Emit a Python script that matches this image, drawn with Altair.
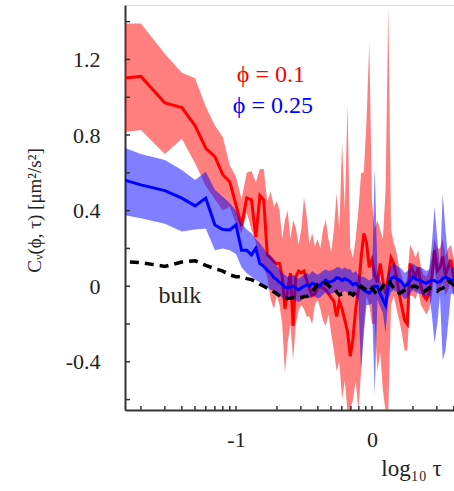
import altair as alt
import pandas as pd
import numpy as np

# x positions: log10(tau)
log_tau = [
    -2.0, -1.699, -1.523, -1.398, -1.301, -1.222, -1.155, -1.097, -1.046, -1.0,
    -0.959, -0.921, -0.886, -0.854, -0.824, -0.796, -0.770, -0.745, -0.721,
    -0.70, -0.68, -0.66, -0.64, -0.62, -0.60, -0.58, -0.56, -0.54, -0.52,
    -0.50, -0.48, -0.46, -0.44, -0.42, -0.40, -0.38, -0.36, -0.34, -0.32,
    -0.30, -0.28, -0.26, -0.24, -0.22, -0.20, -0.18, -0.16, -0.14, -0.12,
    -0.10, -0.08, -0.06, -0.04, -0.02, 0.00, 0.02, 0.04, 0.06, 0.08,
    0.10, 0.12, 0.14, 0.16, 0.18, 0.20, 0.22, 0.24, 0.26, 0.28,
    0.30, 0.32, 0.34, 0.36, 0.38, 0.40, 0.42, 0.44, 0.46, 0.48,
    0.50, 0.52, 0.54, 0.56, 0.58, 0.60, 0.62,
]

# phi = 0.1 (red)
red_mean = [
    1.09, 1.11, 0.97, 0.945, 0.85, 0.73, 0.685, 0.59, 0.553, 0.43,
    0.32, 0.467, 0.457, 0.26, 0.48, 0.457, 0.166, 0.15, 0.13,
    0.12, 0.12, 0.05, -0.12, -0.02, 0.07, -0.21, 0.05, 0.08, 0.07,
    0.08, 0.03, -0.01, -0.05, -0.04, -0.01, 0.0, -0.01, -0.02, -0.04,
    -0.06, -0.08, -0.16, -0.08, -0.12, -0.18, -0.24, -0.37, -0.28, -0.12,
    -0.02, 0.15, 0.28, 0.23, 0.10, 0.14, 0.06, 0.02, 0.12, 0.03,
    -0.04, 0.05, 0.15, 0.12, 0.05, -0.04, -0.11, -0.18, -0.20, 0.12,
    0.08, 0.05, 0.10, 0.0, -0.05, -0.07, -0.04, 0.05, 0.19, 0.08,
    0.10, 0.157, 0.06, 0.10, 0.14, 0.05, 0.05,
]
red_hi = [
    1.39, 1.39, 1.23, 1.13, 1.10, 0.95, 0.85, 0.79, 0.64, 0.58,
    0.46, 0.60, 0.61, 0.55, 0.62, 0.62, 0.45, 0.50, 0.42,
    0.45, 0.40, 0.25, 0.35, 0.40, 0.25, 0.35, 0.31, 0.22, 0.30,
    0.47, 0.37, 0.22, 0.28, 0.21, 0.25, 0.20, 0.30, 0.35, 0.25,
    0.18, 0.30, 0.49, 0.30, 0.76, 0.40, 0.96, 0.20, 0.15, 0.25,
    0.40, 0.60, 0.60, 0.88, 1.29, 0.45, 0.30, 0.35, 0.30, 0.25,
    0.51, 1.48, 0.30, 0.23, 0.18, 0.10, 0.05, 0.0, 0.05, 0.22,
    0.19, 0.15, 0.19, 0.10, 0.06, 0.05, 0.08, 0.15, 0.25, 0.20,
    0.20, 0.25, 0.16, 0.20, 0.22, 0.15, 0.15,
]
red_lo = [
    0.80, 0.827, 0.70, 0.78, 0.65, 0.53, 0.46, 0.40, 0.42, 0.33,
    0.28, 0.39, 0.30, 0.23, 0.15, 0.10, 0.05, -0.07, -0.12,
    -0.05, -0.10, -0.20, -0.46, -0.30, -0.20, -0.39, -0.20, -0.13, -0.10,
    -0.12, -0.16, -0.16, -0.20, -0.10, -0.07, -0.12, -0.18, -0.21, -0.15,
    -0.25, -0.34, -0.45, -0.40, -0.60, -0.50, -0.66, -0.66, -0.60, -0.50,
    -0.66, -0.45, -0.20, -0.05, -0.10, -0.20, -0.20, -0.45, -0.35, -0.55,
    -0.66, -0.66, -0.10, -0.05, -0.12, -0.18, -0.25, -0.34, -0.34, -0.05,
    -0.05, -0.07, -0.02, -0.10, -0.125, -0.15, -0.12, -0.06, 0.10, -0.05,
    -0.02, 0.02, -0.05, -0.02, 0.02, -0.05, -0.05,
]

# phi = 0.25 (blue)
blue_mean = [
    0.60, 0.536, 0.506, 0.466, 0.425, 0.466, 0.324, 0.30, 0.298, 0.324,
    0.19, 0.19, 0.166, 0.20, 0.12, 0.105, 0.085, 0.069, 0.045,
    0.035, 0.02, 0.01, -0.005, -0.01, -0.005, 0.0, -0.01, -0.02, -0.01,
    0.0, 0.007, 0.0, 0.016, 0.01, 0.0, 0.007, 0.02, 0.033, 0.02,
    0.024, 0.03, 0.045, 0.042, 0.03, 0.04, 0.033, 0.024, 0.007, 0.016,
    0.0, -0.01, -0.02, -0.03, -0.037, -0.02, 0.0, 0.0, -0.04, -0.07,
    -0.10, 0.0, 0.04, 0.05, 0.04, 0.033, 0.02, 0.0, 0.01, 0.03,
    0.05, 0.04, 0.033, 0.03, 0.02, 0.016, 0.025, 0.033, 0.03, 0.02,
    0.024, 0.04, 0.05, 0.04, 0.033, 0.033, 0.03,
]
blue_hi = [
    0.78, 0.70, 0.668, 0.615, 0.562, 0.606, 0.51, 0.474, 0.44, 0.40,
    0.333, 0.30, 0.28, 0.25, 0.227, 0.20, 0.175, 0.16, 0.14,
    0.11, 0.09, 0.07, 0.06, 0.05, 0.055, 0.06, 0.05, 0.04, 0.05,
    0.06, 0.07, 0.06, 0.08, 0.07, 0.06, 0.07, 0.08, 0.09, 0.08,
    0.085, 0.09, 0.10, 0.10, 0.09, 0.10, 0.09, 0.09, 0.07, 0.08,
    0.06, 0.05, 0.05, 0.04, 0.03, 0.04, 0.63, 0.08, 0.03, 0.0,
    -0.02, 0.07, 0.11, 0.12, 0.11, 0.10, 0.09, 0.07, 0.08, 0.10,
    0.12, 0.11, 0.10, 0.10, 0.09, 0.08, 0.09, 0.22, 0.42, 0.25,
    0.10, 0.49, 0.30, 0.15, 0.10, 0.10, 0.09,
]
blue_lo = [
    0.40, 0.36, 0.33, 0.29, 0.30, 0.305, 0.19, 0.20, 0.19, 0.17,
    0.10, 0.069, 0.05, 0.033, 0.02, 0.0, -0.01, -0.02, -0.02,
    -0.04, -0.05, -0.06, -0.07, -0.075, -0.07, -0.065, -0.075, -0.085, -0.075,
    -0.065, -0.06, -0.065, -0.05, -0.055, -0.065, -0.06, -0.045, -0.03, -0.045,
    -0.04, -0.035, -0.02, -0.025, -0.035, -0.025, -0.03, -0.04, -0.06, -0.05,
    -0.07, -0.45, -0.25, -0.10, -0.10, -0.09, -0.575, -0.07, -0.11, -0.14,
    -0.25, -0.07, -0.03, -0.02, -0.03, -0.04, -0.05, -0.07, -0.06, -0.04,
    -0.02, -0.03, -0.04, -0.04, -0.05, -0.055, -0.045, -0.15, -0.30, -0.20,
    -0.05, -0.39, -0.34, -0.20, -0.04, -0.04, -0.04,
]

# bulk (black dashed)
bulk = [
    0.139, 0.125, 0.105, 0.128, 0.135, 0.11, 0.093, 0.08, 0.06, 0.05,
    0.05, 0.04, 0.035, 0.024, 0.01, 0.0, -0.01, -0.02, -0.03,
    -0.04, -0.05, -0.06, -0.063, -0.065, -0.063, -0.06, -0.065, -0.063, -0.06,
    -0.055, -0.055, -0.045, -0.03, -0.01, 0.01, 0.016, 0.01, 0.016, 0.005,
    -0.01, -0.01, -0.03, -0.046, -0.04, -0.037, -0.04, -0.037, -0.046, -0.03,
    -0.01, 0.0, -0.01, -0.02, -0.03, -0.01, -0.03, -0.046, -0.02, 0.0,
    0.02, 0.033, 0.01, -0.01, -0.02, -0.037, -0.03, -0.02, -0.01, -0.01,
    0.0, 0.0, -0.01, -0.02, -0.03, -0.02, -0.01, -0.01, -0.02, -0.025,
    -0.015, -0.01, 0.0, 0.024, 0.02, 0.007, 0.0,
]

# axis ticks
y_tick_values = [-0.6, -0.4, -0.2, 0.0, 0.2, 0.4, 0.6, 0.8, 1.0, 1.2, 1.4]
y_label_values = [-0.4, 0.0, 0.4, 0.8, 1.2]
x_tick_taus = [0.02, 0.03, 0.04, 0.05, 0.06, 0.07, 0.08, 0.09, 0.1,
               0.2, 0.3, 0.4, 0.5, 0.6, 0.7, 0.8, 0.9, 1.0, 2.0, 3.0, 4.0]
x_label_values = [-1, 0]

# annotations
ann_text = ["\u03d5 = 0.1", "\u03d5 = 0.25", "bulk"]
ann_x = [-0.743, -0.729, -1.412]
ann_y = [1.083, 0.914, -0.09]
ann_color = ["#ff0000", "#0000ff", "#222222"]

df = pd.DataFrame({
    "lt": log_tau, "rm": red_mean, "rh": red_hi, "rl": red_lo,
    "bm": blue_mean, "bh": blue_hi, "bl": blue_lo, "bk": bulk,
})
ytk = pd.DataFrame({"v": y_tick_values})
xtk = pd.DataFrame({"t": np.log10(x_tick_taus)})
ann = pd.DataFrame({"x": ann_x, "y": ann_y, "text": ann_text, "c": ann_color})

FONT = "Liberation Serif"
W, H = 329, 405
xscale = alt.Scale(domain=[-1.816, 0.603], nice=False, zero=False)
yscale = alt.Scale(domain=[-0.655, 1.488], nice=False, zero=False)

xaxis = alt.Axis(
    values=x_label_values, ticks=False, grid=False, domain=True,
    domainColor="#333333", domainWidth=2,
    labelExpr="datum.value < 0 ? '-' + format(abs(datum.value), 'd') : format(datum.value, 'd')",
    labelFont=FONT, labelFontSize=22, labelColor="#222222", labelPadding=19,
    title="log\u2081\u2080 \u03c4", titleFont=FONT, titleFontSize=23,
    titleFontWeight="normal", titleColor="#222222",
    titleX=286, titleY=65, titleAlign="center", titleBaseline="alphabetic",
)
yaxis = alt.Axis(
    values=y_label_values, ticks=False, grid=False, domain=True,
    domainColor="#333333", domainWidth=2,
    labelExpr="datum.value < 0 ? '-' + format(abs(datum.value), '.1f') : (datum.value == 0 ? '0' : format(datum.value, '.1f'))",
    labelFont=FONT, labelFontSize=22, labelColor="#222222", labelPadding=25,
    title="C\u1d65(\u03d5, \u03c4) [\u03bcm\u00b2/s\u00b2]", titleFont=FONT, titleFontSize=19,
    titleFontWeight="normal", titleColor="#222222",
    titleAngle=-90, titleX=-91, titleY=205, titleAlign="center", titleBaseline="middle",
)


def X(field):
    return alt.X(field, type="quantitative", scale=xscale, axis=xaxis)


def Y(field):
    return alt.Y(field, type="quantitative", scale=yscale, axis=yaxis)


red_band = alt.Chart(df).mark_area(color="#ff0000", opacity=0.5, clip=True).encode(
    x=X("lt"), y=Y("rl"), y2="rh:Q")
red_line = alt.Chart(df).mark_line(color="#ff0000", strokeWidth=3, clip=True).encode(
    x=X("lt"), y=Y("rm"))
blue_band = alt.Chart(df).mark_area(color="#0000ff", opacity=0.5, clip=True).encode(
    x=X("lt"), y=Y("bl"), y2="bh:Q")
blue_line = alt.Chart(df).mark_line(color="#0000ff", strokeWidth=3, clip=True).encode(
    x=X("lt"), y=Y("bm"))
bulk_line = alt.Chart(df).mark_line(color="#000000", strokeWidth=3.5, strokeDash=[9, 6], clip=True).encode(
    x=X("lt"), y=Y("bk"))

yticks = alt.Chart(ytk).mark_rule(color="#333333", strokeWidth=1.5).encode(
    y=Y("v"), x=alt.value(0), x2=alt.value(5))
xticks = alt.Chart(xtk).mark_rule(color="#333333", strokeWidth=1.5).encode(
    x=X("t"), y=alt.value(H), y2=alt.value(H - 4))

labels = alt.Chart(ann).mark_text(font=FONT, fontSize=24, align="center", baseline="alphabetic").encode(
    x=X("x"), y=Y("y"), text="text:N", color=alt.Color("c:N", scale=None))

chart = alt.layer(
    red_band, red_line, blue_band, blue_line, bulk_line, yticks, xticks, labels
).properties(
    width=W, height=H,
    padding={"left": 125, "top": 5, "right": 0, "bottom": 81},
    autosize=alt.AutoSizeParams(type="none"),
).configure_view(stroke=None).configure(background="white")

chart.save("out.html", embed_options={"renderer": "svg", "actions": False})
